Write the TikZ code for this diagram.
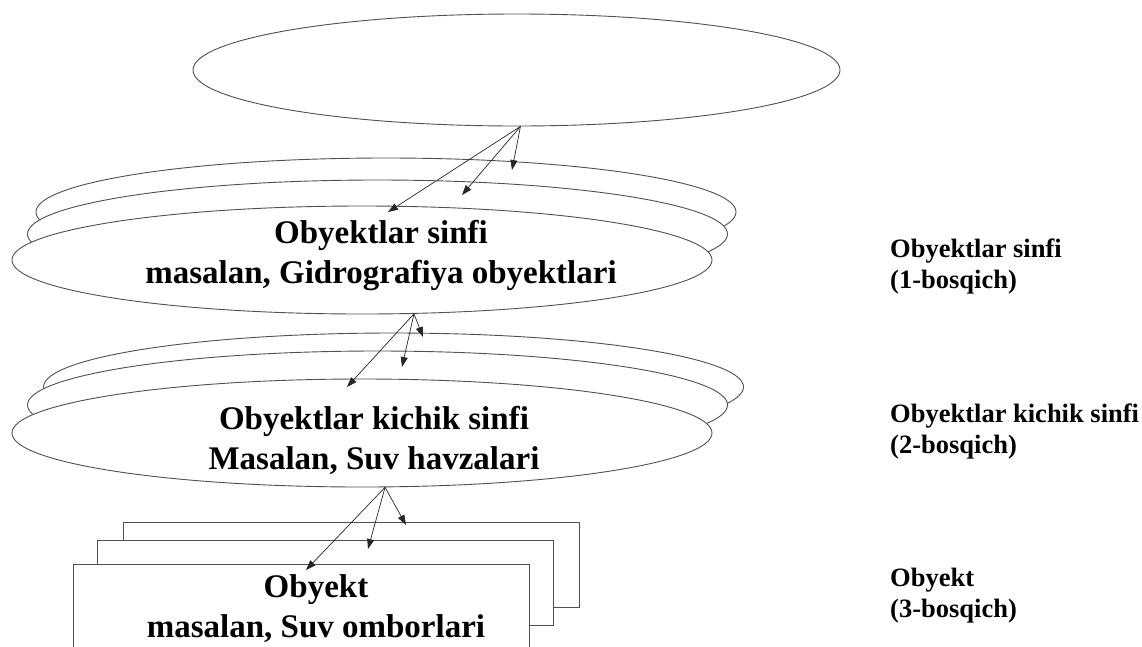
\documentclass[tikz,border=0pt]{standalone}
\usepackage{fontspec}
\setmainfont{Liberation Serif}
\usetikzlibrary{shapes.geometric, arrows.meta, positioning}
\definecolor{edgegray}{HTML}{505050}

\begin{document}
\begin{tikzpicture}[
    x=1pt, y=-1pt,
    level/.style={draw=edgegray,ellipse,fill=white,line width=0.9pt,minimum width=700pt,minimum height=108pt,inner sep=0pt},
    sheet/.style={draw=edgegray,rectangle,fill=white,line width=0.9pt,minimum width=456pt,minimum height=85pt,inner sep=0pt},
    lbl/.style={font=\fontsize{33}{40}\selectfont\bfseries,align=center,inner sep=0pt},
    side/.style={font=\fontsize{26.5}{31}\selectfont\bfseries,align=left,inner sep=0pt,anchor=west},
    arr/.style={-{Triangle[length=10pt,width=7pt]},line width=0.7pt,black!85},
  ]
    \useasboundingbox (0,0) rectangle (1142,646);

    % top level
    \node[level, minimum width=647pt, minimum height=112pt] (root) at (516.5,70) {};

    % 1-bosqich
    \node[level] (cls1back) at (386,212) {};
    \node[level] (cls1mid) at (377.5,234) {};
    \node[level] (cls1) at (362,260) {};
    \node[lbl] (cls1txt) at (381,255.5) {Obyektlar sinfi\\masalan, Gidrografiya obyektlari};

    % 2-bosqich
    \node[level] (cls2back) at (393.5,387) {};
    \node[level] (cls2mid) at (377.5,405) {};
    \node[level] (cls2) at (362,433) {};
    \node[lbl] (cls2txt) at (374,440) {Obyektlar kichik sinfi\\Masalan, Suv havzalari};

    % 3-bosqich
    \node[sheet] (obj3back) at (351,564.5) {};
    \node[sheet] (obj3mid) at (325.5,582.5) {};
    \node[sheet] (obj3) at (301.5,606.5) {};
    \node[lbl] (obj3txt) at (316,609) {Obyekt\\masalan, Suv omborlari};

    % right side
    \node[side] (stage1) at (890,266) {Obyektlar sinfi\\(1-bosqich)};
    \node[side] (stage2) at (890,431) {Obyektlar kichik sinfi\\(2-bosqich)};
    \node[side] (stage3) at (890,595.5) {Obyekt\\(3-bosqich)};

    \coordinate (in1a) at (388,212);
    \coordinate (in1b) at (462,195);
    \coordinate (in1c) at (512,170);
    \coordinate (in2a) at (347,387);
    \coordinate (in2b) at (402,367);
    \coordinate (in2c) at (423,337);
    \coordinate (in3a) at (306,570);
    \coordinate (in3b) at (368,549);
    \coordinate (in3c) at (406,525);

    \draw[arr] (root.-86) -- (in1a);
    \draw[arr] (root.-86) -- (in1b);
    \draw[arr] (root.-86) -- (in1c);
    \draw[arr] (cls1.-46.3) -- (in2a);
    \draw[arr] (cls1.-46.3) -- (in2b);
    \draw[arr] (cls1.-46.3) -- (in2c);
    \draw[arr] (cls2.-67) -- (in3a);
    \draw[arr] (cls2.-67) -- (in3b);
    \draw[arr] (cls2.-67) -- (in3c);
  \end{tikzpicture}
\end{document}
